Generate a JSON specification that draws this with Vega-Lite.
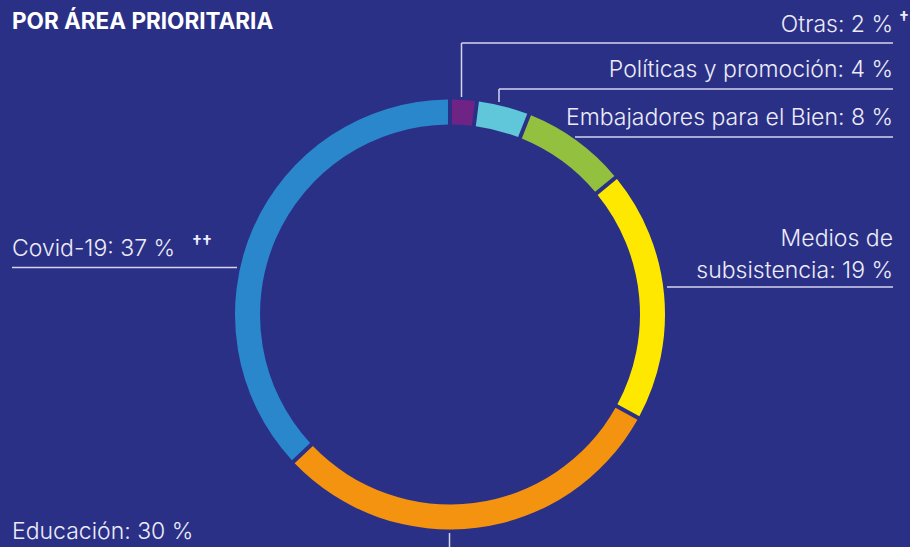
{
  "$schema": "https://vega.github.io/schema/vega-lite/v6.json",
  "width": 900,
  "height": 629,
  "padding": {"left": 0, "top": 0, "right": 10, "bottom": 0},
  "autosize": {"type": "none"},
  "background": "#2b3087",
  "config": {"view": {"stroke": null}},
  "datasets": {
    "areas": [
      {"area": "Otras", "pct": 2, "ord": 1},
      {"area": "Políticas y promoción", "pct": 4, "ord": 2},
      {"area": "Embajadores para el Bien", "pct": 8, "ord": 3},
      {"area": "Medios de subsistencia", "pct": 19, "ord": 4},
      {"area": "Educación", "pct": 30, "ord": 5},
      {"area": "Covid-19", "pct": 37, "ord": 6}
    ],
    "rightLabels": [
      {"label": "Otras: 2 %", "lx": 893, "ly": 32},
      {"label": "Políticas y promoción: 4 %", "lx": 893, "ly": 77},
      {"label": "Embajadores para el Bien: 8 %", "lx": 893, "ly": 125},
      {"label": "Medios de", "lx": 893, "ly": 246},
      {"label": "subsistencia: 19 %", "lx": 893, "ly": 278}
    ],
    "leftLabels": [
      {"label": "Covid-19: 37 %", "lx": 12, "ly": 256},
      {"label": "Educación: 30 %", "lx": 12, "ly": 539}
    ],
    "notes": [
      {"label": "†", "lx": 899, "ly": 25},
      {"label": "††", "lx": 192, "ly": 249}
    ],
    "heading": [
      {"label": "POR ÁREA PRIORITARIA", "lx": 12, "ly": 29}
    ],
    "leaders": [
      {"x": 461.5, "y": 97, "x2": 461.5, "y2": 43},
      {"x": 461.5, "y": 43, "x2": 893, "y2": 43},
      {"x": 499, "y": 102, "x2": 499, "y2": 89},
      {"x": 499, "y": 89, "x2": 893, "y2": 89},
      {"x": 575, "y": 137, "x2": 893, "y2": 137},
      {"x": 667, "y": 287, "x2": 893, "y2": 287},
      {"x": 12, "y": 267.5, "x2": 237, "y2": 267.5},
      {"x": 449.5, "y": 533, "x2": 449.5, "y2": 570}
    ]
  },
  "layer": [
    {
      "data": {"name": "areas"},
      "mark": {"type": "arc", "outerRadius": 215, "innerRadius": 190, "padAngle": 0.014},
      "encoding": {
        "theta": {"field": "pct", "type": "quantitative", "stack": true},
        "order": {"field": "ord", "type": "quantitative"},
        "color": {
          "field": "area",
          "type": "nominal",
          "scale": {
            "domain": ["Otras", "Políticas y promoción", "Embajadores para el Bien", "Medios de subsistencia", "Educación", "Covid-19"],
            "range": ["#6f2485", "#60c6d9", "#93c13f", "#ffe800", "#f4930f", "#2a87cb"]
          },
          "legend": null
        }
      }
    },
    {
      "data": {"name": "leaders"},
      "mark": {"type": "rule", "color": "#d4d4ec", "strokeWidth": 1.5},
      "encoding": {
        "x": {"field": "x", "type": "quantitative", "scale": {"domain": [0, 900]}, "axis": null},
        "y": {"field": "y", "type": "quantitative", "scale": {"domain": [0, 629], "reverse": true}, "axis": null},
        "x2": {"field": "x2"},
        "y2": {"field": "y2"}
      }
    },
    {
      "data": {"name": "rightLabels"},
      "mark": {"type": "text", "align": "right", "baseline": "alphabetic", "font": "Inter", "fontWeight": 300, "fontSize": 23, "color": "#ececf8"},
      "encoding": {
        "x": {"field": "lx", "type": "quantitative", "scale": {"domain": [0, 900]}, "axis": null},
        "y": {"field": "ly", "type": "quantitative", "scale": {"domain": [0, 629], "reverse": true}, "axis": null},
        "text": {"field": "label"}
      }
    },
    {
      "data": {"name": "leftLabels"},
      "mark": {"type": "text", "align": "left", "baseline": "alphabetic", "font": "Inter", "fontWeight": 300, "fontSize": 23, "color": "#ececf8"},
      "encoding": {
        "x": {"field": "lx", "type": "quantitative", "scale": {"domain": [0, 900]}, "axis": null},
        "y": {"field": "ly", "type": "quantitative", "scale": {"domain": [0, 629], "reverse": true}, "axis": null},
        "text": {"field": "label"}
      }
    },
    {
      "data": {"name": "notes"},
      "mark": {"type": "text", "align": "left", "baseline": "alphabetic", "font": "Inter", "fontWeight": 600, "fontSize": 18, "color": "#ececf8"},
      "encoding": {
        "x": {"field": "lx", "type": "quantitative", "scale": {"domain": [0, 900]}, "axis": null},
        "y": {"field": "ly", "type": "quantitative", "scale": {"domain": [0, 629], "reverse": true}, "axis": null},
        "text": {"field": "label"}
      }
    },
    {
      "data": {"name": "heading"},
      "mark": {"type": "text", "align": "left", "baseline": "alphabetic", "font": "Inter", "fontWeight": "bold", "fontSize": 22.5, "color": "#ffffff"},
      "encoding": {
        "x": {"field": "lx", "type": "quantitative", "scale": {"domain": [0, 900]}, "axis": null},
        "y": {"field": "ly", "type": "quantitative", "scale": {"domain": [0, 629], "reverse": true}, "axis": null},
        "text": {"field": "label"}
      }
    }
  ]
}
